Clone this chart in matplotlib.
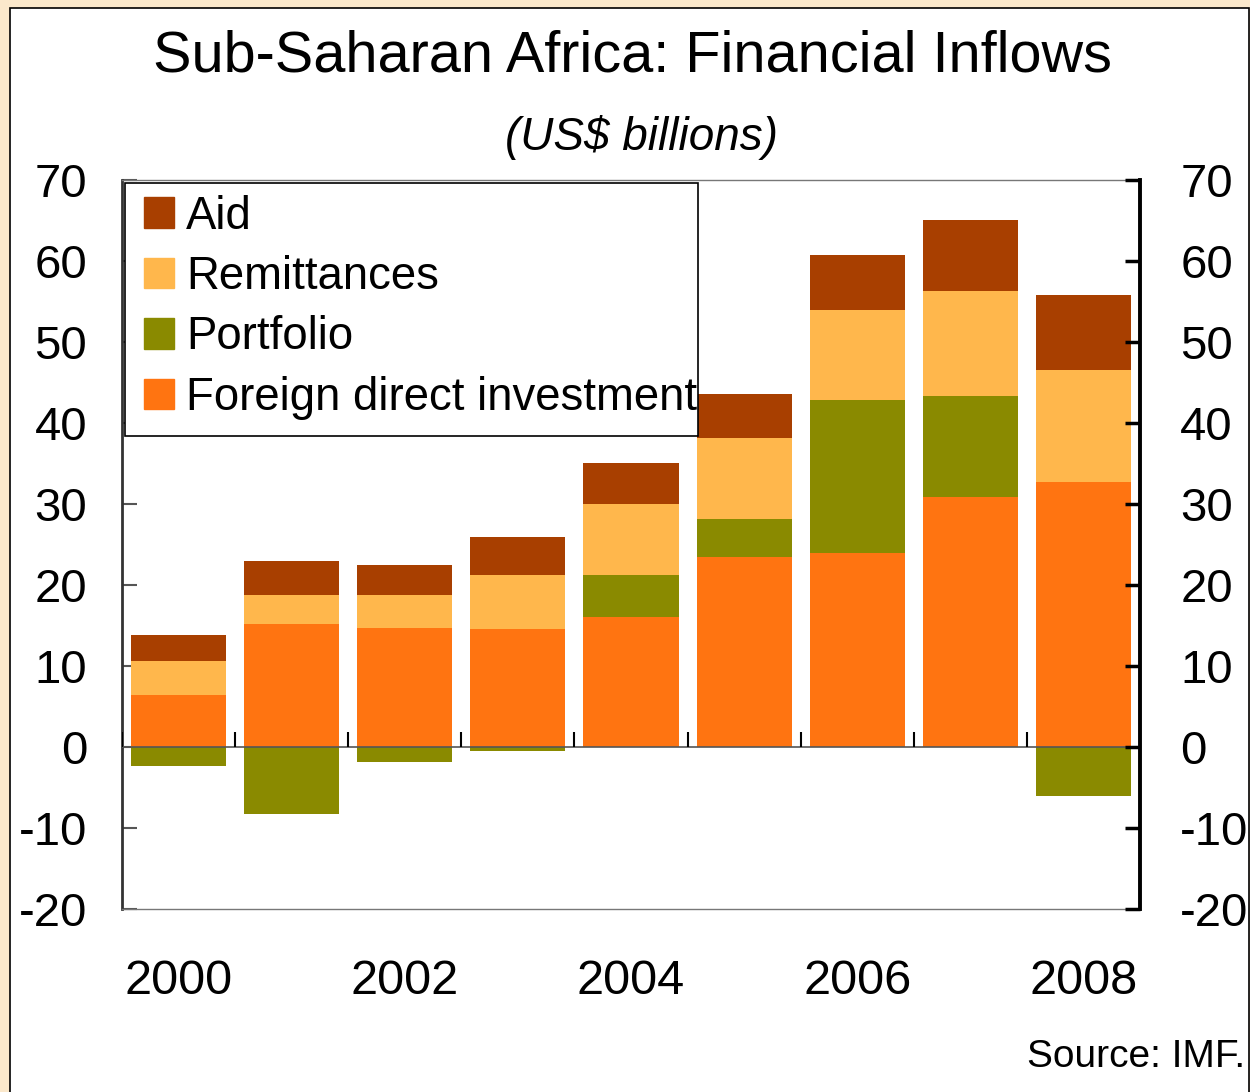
import matplotlib.pyplot as plt
from matplotlib.patches import Rectangle, Patch
import numpy as np

plt.rcParams['font.family'] = ['Liberation Sans', 'DejaVu Sans']
plt.rcParams['axes.unicode_minus'] = False

# Sub-Saharan Africa financial inflows, US$ billions
years = [2000, 2001, 2002, 2003, 2004, 2005, 2006, 2007, 2008]
fdi = [6.4, 15.2, 14.7, 14.6, 16.1, 23.4, 23.9, 30.9, 32.7]
portfolio = [-2.4, -8.3, -1.9, -0.5, 5.1, 4.7, 19.0, 12.4, -6.1]
remittances = [4.2, 3.6, 4.1, 6.6, 8.8, 10.0, 11.0, 13.0, 13.8]
aid = [3.2, 4.2, 3.7, 4.7, 5.1, 5.5, 6.9, 8.8, 9.3]

c_aid = '#A83F00'
c_rem = '#FFB74C'
c_port = '#8A8A00'
c_fdi = '#FF7411'

W, H = 1250, 1092
fig = plt.figure(figsize=(W / 100, H / 100), dpi=100)
fig.patch.set_facecolor('#FBE8CB')
# white panel with thin black border
fig.patches.append(Rectangle((10 / W, -0.05), 1239 / W, 1 - 8 / H + 0.05,
                             transform=fig.transFigure, facecolor='white',
                             edgecolor='black', lw=1.2, zorder=-1))

ax = fig.add_axes([122 / W, 1 - 909 / H, (1140 - 122) / W, (909 - 180) / H])
ax.set_facecolor('none')

x = np.arange(len(years))
w = 0.84
fdi = np.array(fdi)
portfolio = np.array(portfolio)
remittances = np.array(remittances)
aid = np.array(aid)

port_pos = np.clip(portfolio, 0, None)
port_neg = np.clip(portfolio, None, 0)

ax.bar(x, fdi, w, color=c_fdi, zorder=2)
ax.bar(x, port_pos, w, bottom=fdi, color=c_port, zorder=2)
ax.bar(x, port_neg, w, color=c_port, zorder=2)
ax.bar(x, remittances, w, bottom=fdi + port_pos, color=c_rem, zorder=2)
ax.bar(x, aid, w, bottom=fdi + port_pos + remittances, color=c_aid, zorder=2)

ax.set_xlim(-0.5, len(years) - 0.5)
ax.set_ylim(-20, 70)
ax.set_yticks(range(-20, 71, 10))

# zero line with category separators
ax.axhline(0, color='#555555', lw=1.2, zorder=3)
ax.vlines(np.arange(len(years)) - 0.5, 0, 1.85, color='black', lw=1.5, zorder=3)

ax.set_xticks(x[::2])
ax.set_xticklabels([str(y) for y in years[::2]], fontsize=35)
ax.tick_params(axis='x', length=0, pad=36)
ax.tick_params(axis='y', direction='in', length=11, width=1.5, color='#555555',
               labelsize=34, pad=25)

for s in ['top', 'bottom']:
    ax.spines[s].set_color('#777777')
    ax.spines[s].set_linewidth(1.0)
ax.spines['left'].set_color('#333333')
ax.spines['left'].set_linewidth(2.0)
ax.spines['right'].set_visible(False)

ax2 = ax.twinx()
ax2.set_ylim(-20, 70)
ax2.set_yticks(range(-20, 71, 10))
ax2.tick_params(axis='y', direction='in', length=11, width=2.5, color='black',
                labelsize=34, pad=29)
ax2.spines['right'].set_linewidth(2.8)
ax2.spines['right'].set_color('black')
for s in ['top', 'bottom', 'left']:
    ax2.spines[s].set_visible(False)

# legend box: fixed frame, the long label runs to its right edge
ax2.add_patch(Rectangle((125 / W, 1 - 436 / H), (698 - 125) / W, (436 - 183) / H,
                        transform=fig.transFigure, facecolor='white',
                        edgecolor='black', lw=1.2, zorder=4, clip_on=False))

handles = [Patch(color=c_aid), Patch(color=c_rem), Patch(color=c_port), Patch(color=c_fdi)]
labels = ['Aid', 'Remittances', 'Portfolio', 'Foreign direct investment']
leg = ax2.legend(handles, labels, loc='upper left',
                 bbox_to_anchor=(130 / W, 1 - 181 / H), bbox_transform=fig.transFigure,
                 borderaxespad=0, fontsize=32.8, frameon=False,
                 handlelength=0.66, handleheight=0.66, handletextpad=0.27,
                 labelspacing=0.36, borderpad=0.3)
leg.set_zorder(5)

fig.text(632 / W, 1 - 57 / H, 'Sub-Saharan Africa: Financial Inflows',
         ha='center', va='center', fontsize=41.5)
fig.text(642 / W, 1 - 138 / H, '(US$ billions)', ha='center', va='center',
         fontsize=33, style='italic')
fig.text(1245 / W, 1 - 1057 / H, 'Source: IMF.', ha='right', va='center',
         fontsize=28)

fig.savefig('out.png', dpi=100, facecolor=fig.get_facecolor())
